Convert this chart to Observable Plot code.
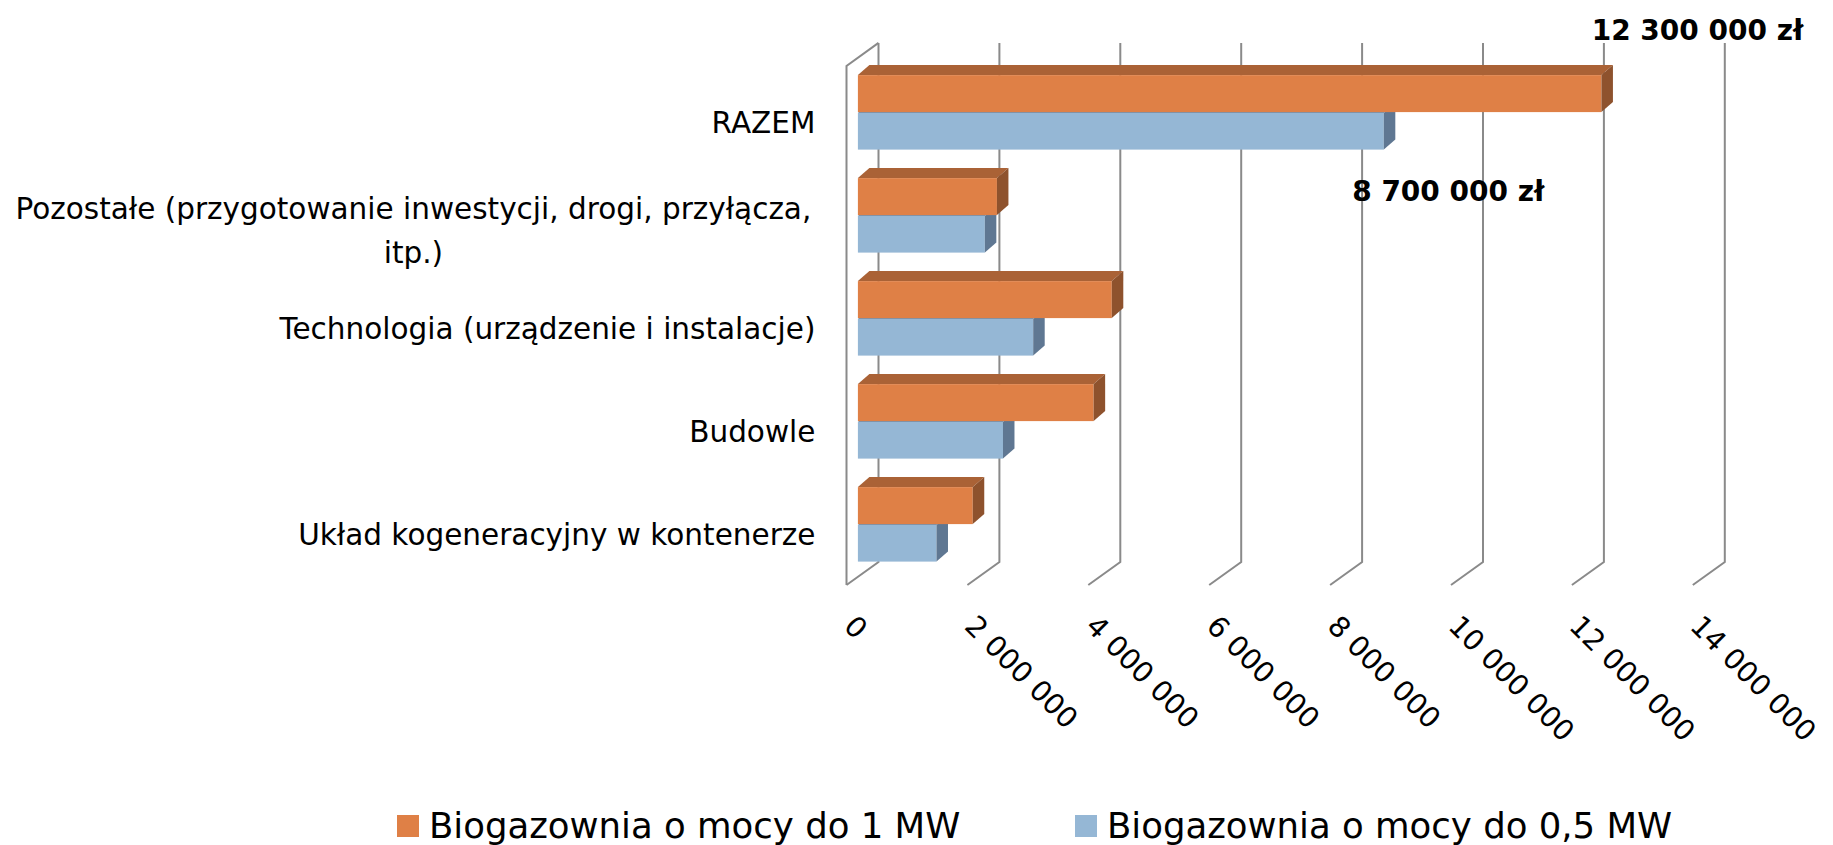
<!DOCTYPE html>
<html><head><meta charset="utf-8">
<script src="https://cdn.jsdelivr.net/npm/d3@7"></script>
<script src="https://cdn.jsdelivr.net/npm/@observablehq/plot@0.6"></script>
<style>
body{margin:0;background:#fff;font-family:"DejaVu Sans",sans-serif;}
#wrap{position:relative;width:1833px;height:845px;overflow:hidden;background:#fff;}
#legend{position:absolute;left:397px;top:808px;display:flex;align-items:center;font-size:35.5px;line-height:1;color:#000;}
.item{display:flex;align-items:center;}
.sw{width:22px;height:22px;margin-right:10px;}
</style></head><body><div id="wrap"><div id="chart"></div><div id="legend"></div></div>
<script>
// ---- data ----
const categories = [
  "RAZEM",
  "Pozostałe (przygotowanie inwestycji, drogi, przyłącza,\nitp.)",
  "Technologia (urządzenie i instalacje)",
  "Budowle",
  "Układ kogeneracyjny w kontenerze"
];
const series = ["Biogazownia o mocy do 1 MW", "Biogazownia o mocy do 0,5 MW"];
const values1MW  = [12300000, 2300000, 4200000, 3900000, 1900000];
const values05MW = [8700000, 2100000, 2900000, 2400000, 1300000];
const xTicks = [0, 2000000, 4000000, 6000000, 8000000, 10000000, 12000000, 14000000];
const currency = "zł";

// ---- styles ----
const frontColors = ["#DF8046", "#95B7D5"];
const topColors   = ["#AA6236", "#7A93AE"];
const sideColors  = ["#8E522D", "#5F7792"];
const gridColor = "#8a8a8a";
const DEPTH_DX = 11.5, DEPTH_DY = 10;     // bar depth
const BACK_DX = 20.6, BACK_DY = 16.2;     // bar plane -> back wall
const FRONT_DX = -11.4, FRONT_DY = 6.8;   // bar plane -> front edge of floor

const fmt = v => d3.format(",")(v).replace(/,/g, " ");

const rows = categories.flatMap((c, i) => [
  {cat: c, s: 0, value: values1MW[i]},
  {cat: c, s: 1, value: values05MW[i]}
]);

const NS = "http://www.w3.org/2000/svg";
function poly(pts, fill) {
  const p = document.createElementNS(NS, "path");
  p.setAttribute("d", "M" + pts.map(q => q.join(",")).join("L") + "Z");
  p.setAttribute("fill", fill);
  return p;
}
function box3d(s) {
  return function(index, scales, values, dimensions, context, next) {
    const g = next(index, scales, values, dimensions, context);
    for (const r of Array.from(g.querySelectorAll("rect"))) {
      const x = +r.getAttribute("x"), y = +r.getAttribute("y");
      const w = +r.getAttribute("width"), h = +r.getAttribute("height");
      g.appendChild(poly([[x, y], [x + DEPTH_DX, y - DEPTH_DY], [x + w + DEPTH_DX, y - DEPTH_DY], [x + w, y]], topColors[s]));
      g.appendChild(poly([[x + w, y], [x + w + DEPTH_DX, y - DEPTH_DY], [x + w + DEPTH_DX, y + h - DEPTH_DY], [x + w, y + h]], sideColors[s]));
    }
    return g;
  };
}

function walls(index, scales, values, dimensions) {
  const g = d3.create("svg:g").attr("stroke", gridColor).attr("stroke-width", 2).attr("fill", "none");
  const top = dimensions.marginTop - BACK_DY;
  const bottom = dimensions.height - dimensions.marginBottom;
  const backFloor = bottom - BACK_DY, frontFloor = bottom + FRONT_DY;
  for (const i of index) {
    const x = values.x[i];
    g.append("path").attr("d", `M${x + BACK_DX},${top}L${x + BACK_DX},${backFloor}L${x + FRONT_DX},${frontFloor}`);
  }
  const x0 = scales.x(0);
  g.append("path").attr("d", `M${x0 + FRONT_DX},${frontFloor}L${x0 + FRONT_DX},${top + 23}L${x0 + BACK_DX},${top}`);
  return g.node();
}

const chart = Plot.plot({
  width: 1833,
  height: 785,
  marginLeft: 857.9,
  marginRight: 128.8,
  marginTop: 59.1,
  marginBottom: 206.8,
  style: {fontFamily: "DejaVu Sans", background: "#fff", color: "#000"},
  x: {domain: [0, 14000000], axis: null},
  y: {type: "band", domain: categories, padding: 0, axis: null},
  marks: [
    Plot.ruleX(xTicks, {x: d => d, stroke: gridColor, render: walls}),
    Plot.barX(rows.filter(d => d.s === 1), {x: "value", y: "cat", fill: frontColors[1], insetTop: 51.9, insetBottom: 14.4, render: box3d(1)}),
    Plot.barX(rows.filter(d => d.s === 0), {x: "value", y: "cat", fill: frontColors[0], insetTop: 14.1, insetBottom: 51.9, render: box3d(0)}),
    Plot.text(categories.filter(c => !c.includes("\n")), {x: () => 0, y: d => d, text: d => d, textAnchor: "end", dx: -43, dy: 11, fontSize: 29.5}),
    Plot.text(categories.filter(c => c.includes("\n")), {x: () => 0, y: d => d, text: d => d, textAnchor: "middle", dx: -445, dy: 11, fontSize: 29.5, lineHeight: 1.48}),
    Plot.text(xTicks, {x: d => d, text: d => fmt(d), frameAnchor: "bottom", rotate: 45, textAnchor: "start", dx: -16, dy: 49, fontSize: 28.5}),
    Plot.text([rows[0]], {x: "value", y: "cat", text: d => fmt(d.value) + " " + currency, dx: 95.6, dy: -82, fontSize: 28, fontWeight: "bold"}),
    Plot.text([rows[1]], {x: "value", y: "cat", text: d => fmt(d.value) + " " + currency, dx: 64, dy: 79, fontSize: 28, fontWeight: "bold"})
  ]
});
document.getElementById("chart").appendChild(chart);

const legend = document.getElementById("legend");
series.forEach((name, i) => {
  const item = document.createElement("div");
  item.className = "item";
  if (i === 0) item.style.width = "678px";
  const sw = document.createElement("div");
  sw.className = "sw";
  sw.style.background = frontColors[i];
  const t = document.createElement("span");
  t.textContent = name;
  item.appendChild(sw); item.appendChild(t);
  legend.appendChild(item);
});
</script></body></html>
